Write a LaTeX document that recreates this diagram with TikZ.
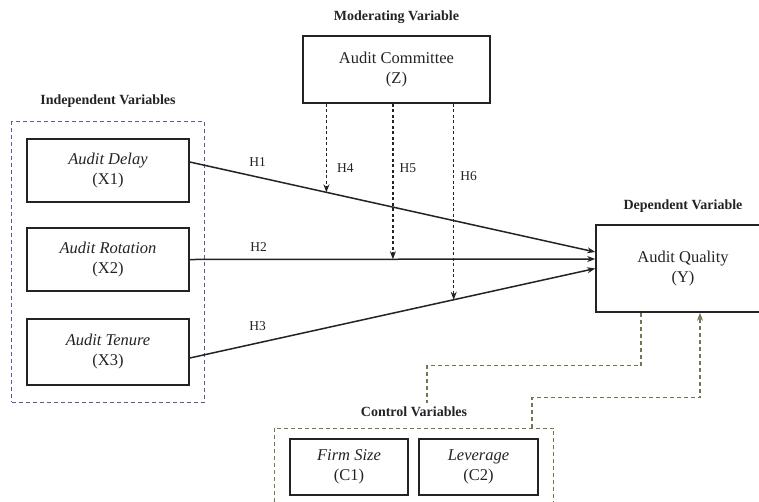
\documentclass[tikz,border=0pt]{standalone}
\usepackage{fontspec}
\setmainfont{Liberation Serif}
\usetikzlibrary{arrows.meta,fit,positioning}
\definecolor{indepblue}{RGB}{90,92,150}
\definecolor{ctrlolive}{RGB}{120,115,80}
\definecolor{inkgray}{RGB}{35,35,35}
\tikzset{
  varbox/.style={draw=inkgray, line width=1.6pt, align=center, text=inkgray,
    font=\fontsize{16.5}{20}\selectfont, inner sep=0pt},
  grouptitle/.style={font=\bfseries\fontsize{14}{16}\selectfont, text=inkgray, inner sep=0pt},
  hlabel/.style={font=\fontsize{13.5}{15}\selectfont, text=inkgray, inner sep=0pt},
  effect/.style={draw=inkgray, line width=1.5pt, -{Stealth[length=8pt,width=6pt]}},
  moderate/.style={draw=inkgray, line width=1.3pt, dash pattern=on 3pt off 2.5pt,
    -{Stealth[length=8pt,width=6pt]}},
  controlline/.style={draw=ctrlolive, line width=1.2pt, dash pattern=on 4pt off 3pt},
}
\begin{document}
\begin{tikzpicture}[x=1pt,y=-1pt]
    \useasboundingbox (0,0) rectangle (759,501);

    \node [varbox, minimum width=187pt, minimum height=67pt,
      label={[grouptitle, label distance=11pt]above:Moderating Variable}] (Z) at (396.5,69.5) {Audit Committee\\(Z)};

    \node [varbox, minimum width=162pt, minimum height=63pt] (X1) at (108,170.5) {\textit{Audit Delay}\\(X1)};
    \node [varbox, minimum width=162pt, minimum height=63pt] (X2) at (108,259.5) {\textit{Audit Rotation}\\(X2)};
    \node [varbox, minimum width=162pt, minimum height=66pt] (X3) at (108,352) {\textit{Audit Tenure}\\(X3)};
    \node [draw=indepblue, line width=1.3pt, dash pattern=on 4pt off 3pt, inner xsep=14.5pt, inner ysep=16.5pt, fit=(X1)(X3),
      label={[grouptitle, label distance=13pt]above:Independent Variables}] (Xgroup) {};

    \node [varbox, minimum width=174pt, minimum height=87pt,
      label={[grouptitle, label distance=12pt]above:Dependent Variable}] (Y) at (683,268.5) {Audit Quality\\(Y)};

    \node [varbox, minimum width=118pt, minimum height=56pt] (C1) at (349,467) {\textit{Firm Size}\\(C1)};
    \node [varbox, minimum width=119pt, minimum height=56pt] (C2) at (478.5,467) {\textit{Leverage}\\(C2)};
    \node [controlline, inner xsep=15pt, inner ysep=10pt, fit=(C1)(C2),
      label={[grouptitle, label distance=11pt]above:Control Variables}] (Cgroup) {};

    \draw [effect] ([yshift=8.5pt]X1.east) -- node [hlabel, pos=0.167, above=10pt] {H1} coordinate [pos=0.337] (m1) ([yshift=16.5pt]Y.west);
    \draw [effect] (X2.east) -- node [hlabel, pos=0.17, above=7.5pt] {H2} coordinate [pos=0.501] (m2) ([yshift=9.5pt]Y.west);
    \draw [effect] ([yshift=-6pt]X3.east) -- node [hlabel, pos=0.167, above=12pt] {H3} coordinate [pos=0.651] (m3) (Y.west);

    \draw [moderate] (Z.south -| m1) -- node [hlabel, pos=0.725, right=10pt] {H4} (m1);
    \draw [moderate] (Z.south -| m2) -- node [hlabel, pos=0.417, right=6pt] {H5} (m2);
    \draw [moderate] (Z.south -| m3) -- node [hlabel, pos=0.367, right=6pt] {H6} (m3);

    \coordinate (c1) at (427,403);
    \draw [controlline] ([xshift=-42pt]Y.south) -- ++(0,53) -| (c1);
    \draw [controlline, -{Stealth[length=8pt,width=6pt]}] ([xshift=118pt]Cgroup.north) -- ++(0,-30) -| ([xshift=17pt]Y.south);
\end{tikzpicture}
\end{document}
